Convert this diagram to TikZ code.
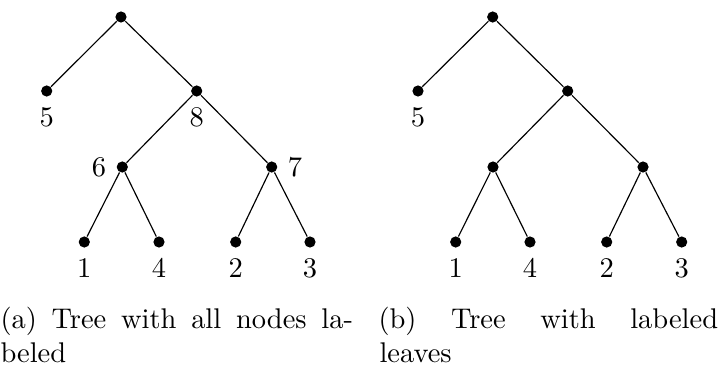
\documentclass[tikz,border=0pt]{standalone}
\usetikzlibrary{positioning}
\begin{document}
\fontsize{10.95pt}{13.6pt}\selectfont
\begin{tikzpicture}[x=0.3846pt,y=-0.3846pt,
  every node/.style={font=\fontsize{10.95pt}{13.6pt}\selectfont},
  dot/.style={circle,fill=black,inner sep=0pt,minimum size=4.3pt},
  edge/.style={line width=0.45pt},
  captext/.style={anchor=base west,inner sep=0pt}]
\useasboundingbox (0,0) rectangle (719,364);
% left tree
\node[dot] (a0) at (121,17) {};
\node[dot,label=below:5] (a5) at (46.7,91) {};
\node[dot,label=below:8] (a8) at (196.7,91) {};
\node[dot,label=left:6] (a6) at (122.3,167) {};
\node[dot,label=right:7] (a7) at (271.7,167) {};
\node[dot,label=below:1] (a1) at (84.3,242) {};
\node[dot,label=below:4] (a4) at (159,242) {};
\node[dot,label=below:2] (a2) at (235.7,242) {};
\node[dot,label=below:3] (a3) at (310,242) {};
\draw[edge] (a0) -- (a5);
\draw[edge] (a0) -- (a8);
\draw[edge] (a8) -- (a6);
\draw[edge] (a8) -- (a7);
\draw[edge] (a6) -- (a1);
\draw[edge] (a6) -- (a4);
\draw[edge] (a7) -- (a2);
\draw[edge] (a7) -- (a3);
% right tree
\node[dot] (b0) at (492.7,17) {};
\node[dot,label=below:5] (b5) at (418,91) {};
\node[dot] (b8) at (567.7,91) {};
\node[dot] (b6) at (493,167) {};
\node[dot] (b7) at (643,167) {};
\node[dot,label=below:1] (b1) at (455.7,242) {};
\node[dot,label=below:4] (b4) at (530,242) {};
\node[dot,label=below:2] (b2) at (606.7,242) {};
\node[dot,label=below:3] (b3) at (681.7,242) {};
\draw[edge] (b0) -- (b5);
\draw[edge] (b0) -- (b8);
\draw[edge] (b8) -- (b6);
\draw[edge] (b8) -- (b7);
\draw[edge] (b6) -- (b1);
\draw[edge] (b6) -- (b4);
\draw[edge] (b7) -- (b2);
\draw[edge] (b7) -- (b3);
% captions
\node[captext] (ca1) at (0,328) {\makebox[135.6pt][s]{(a) Tree with all nodes la-}};
\node[captext] (ca2) at (0,362) {beled};
\node[captext] (cb1) at (378,328) {\makebox[130.6pt][s]{(b) Tree with labeled}};
\node[captext] (cb2) at (379,362) {leaves};
\end{tikzpicture}
\end{document}
